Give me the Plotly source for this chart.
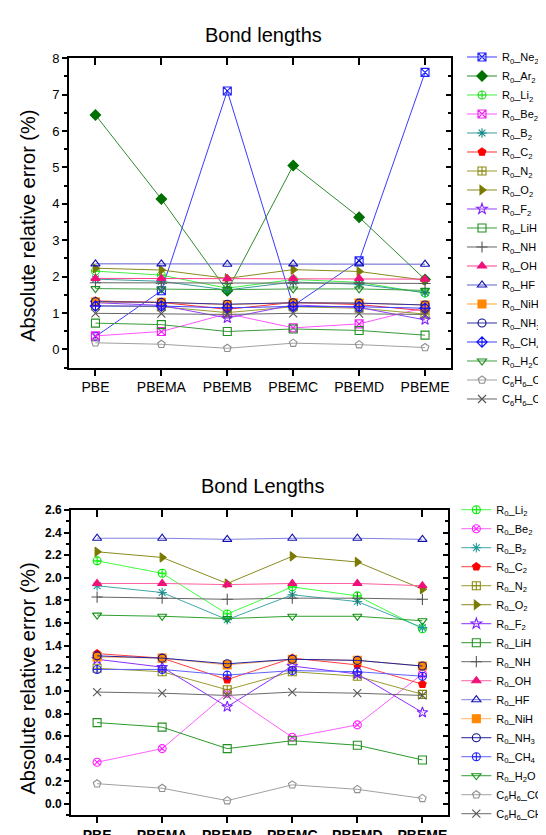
import plotly.graph_objects as go

methods = ["PBE", "PBEMA", "PBEMB", "PBEMC", "PBEMD", "PBEME"]

ne2 = [0.35, 1.61, 7.10, 1.20, 2.43, 7.61]
ar2 = [6.44, 4.13, 1.61, 5.05, 3.63, 1.92]
li2 = [2.15, 2.04, 1.68, 1.92, 1.84, 1.55]
be2 = [0.37, 0.49, 0.98, 0.59, 0.70, 1.15]
b2 = [1.93, 1.87, 1.63, 1.85, 1.79, 1.56]
c2 = [1.33, 1.29, 1.10, 1.29, 1.23, 1.06]
n2 = [1.20, 1.17, 1.01, 1.17, 1.13, 0.97]
o2 = [2.23, 2.18, 1.95, 2.19, 2.14, 1.90]
f2 = [1.28, 1.21, 0.86, 1.22, 1.15, 0.81]
lih = [0.72, 0.68, 0.49, 0.56, 0.52, 0.39]
nh = [1.83, 1.82, 1.81, 1.82, 1.82, 1.81]
oh = [1.95, 1.95, 1.94, 1.95, 1.95, 1.93]
hf = [2.35, 2.35, 2.34, 2.35, 2.35, 2.34]
nih = [1.30, 1.29, 1.23, 1.28, 1.27, 1.22]
nh3 = [1.31, 1.29, 1.24, 1.28, 1.27, 1.22]
ch4 = [1.19, 1.19, 1.14, 1.18, 1.17, 1.13]
h2o = [1.67, 1.66, 1.64, 1.66, 1.66, 1.62]
cc = [0.18, 0.14, 0.03, 0.17, 0.13, 0.05]
ch = [0.99, 0.98, 0.96, 0.99, 0.98, 0.96]

top_title = "Bond lengths"
bottom_title = "Bond Lengths"
y_title = "Absolute relative error (%)"

W, H = 546, 835
FONT = "Liberation Sans, Arial, sans-serif"

# (name, data, marker symbol, marker color, line color)
top_series = [
    ("R<sub>0</sub>_Ne<sub>2</sub>", ne2, "square-x-open", "#2020ff", "#3a3aff"),
    ("R<sub>0</sub>_Ar<sub>2</sub>", ar2, "diamond", "#007000", "#2e8b2e"),
    ("R<sub>0</sub>_Li<sub>2</sub>", li2, "circle-cross-open", "#22dd22", "#44ee44"),
    ("R<sub>0</sub>_Be<sub>2</sub>", be2, "square-x-open", "#ee22ee", "#ff55ff"),
    ("R<sub>0</sub>_B<sub>2</sub>", b2, "asterisk-open", "#108888", "#3a9a9a"),
    ("R<sub>0</sub>_C<sub>2</sub>", c2, "pentagon", "#ff0000", "#ff3030"),
    ("R<sub>0</sub>_N<sub>2</sub>", n2, "square-cross-open", "#8a8a10", "#9a9a30"),
    ("R<sub>0</sub>_O<sub>2</sub>", o2, "triangle-right", "#7a7a00", "#8a8a20"),
    ("R<sub>0</sub>_F<sub>2</sub>", f2, "star-open", "#8020ff", "#9040ff"),
    ("R<sub>0</sub>_LiH", lih, "square-open", "#209020", "#3a9a3a"),
    ("R<sub>0</sub>_NH", nh, "cross-thin-open", "#555555", "#666666"),
    ("R<sub>0</sub>_OH", oh, "triangle-up", "#f0107a", "#ff4090"),
    ("R<sub>0</sub>_HF", hf, "triangle-up-open", "#1010b0", "#6060d0"),
    ("R<sub>0</sub>_NiH", nih, "square", "#ff8800", "#ffa040"),
    ("R<sub>0</sub>_NH<sub>3</sub>", nh3, "circle-open", "#101090", "#3030a0"),
    ("R<sub>0</sub>_CH<sub>4</sub>", ch4, "diamond-cross-open", "#1010ff", "#4040ff"),
    ("R<sub>0</sub>_H<sub>2</sub>O", h2o, "triangle-down-open", "#208a20", "#40a040"),
    ("C<sub>6</sub>H<sub>6</sub>_CC", cc, "pentagon-open", "#909090", "#a0a0a0"),
    ("C<sub>6</sub>H<sub>6</sub>_CH", ch, "x-thin-open", "#555555", "#666666"),
]

bottom_series = [
    ("R<sub>0</sub>_Li<sub>2</sub>", li2, "circle-cross-open", "#00ee00", "#40ff40"),
    ("R<sub>0</sub>_Be<sub>2</sub>", be2, "circle-x-open", "#ff20ff", "#ff60ff"),
    ("R<sub>0</sub>_B<sub>2</sub>", b2, "asterisk-open", "#209a9a", "#40a8a8"),
    ("R<sub>0</sub>_C<sub>2</sub>", c2, "pentagon", "#ff0000", "#ff4040"),
    ("R<sub>0</sub>_N<sub>2</sub>", n2, "square-cross-open", "#8a8a10", "#9a9a30"),
    ("R<sub>0</sub>_O<sub>2</sub>", o2, "triangle-right", "#7a7a00", "#8a8a20"),
    ("R<sub>0</sub>_F<sub>2</sub>", f2, "star-open", "#8020ff", "#8a30ff"),
    ("R<sub>0</sub>_LiH", lih, "square-open", "#209020", "#2a9a2a"),
    ("R<sub>0</sub>_NH", nh, "cross-thin-open", "#555555", "#666666"),
    ("R<sub>0</sub>_OH", oh, "triangle-up", "#f0107a", "#ff60a0"),
    ("R<sub>0</sub>_HF", hf, "triangle-up-open", "#1010b0", "#8080e0"),
    ("R<sub>0</sub>_NiH", nih, "square", "#ff8800", "#ffb060"),
    ("R<sub>0</sub>_NH<sub>3</sub>", nh3, "circle-open", "#101090", "#2020a0"),
    ("R<sub>0</sub>_CH<sub>4</sub>", ch4, "circle-cross-open", "#2020ff", "#6060ff"),
    ("R<sub>0</sub>_H<sub>2</sub>O", h2o, "triangle-down-open", "#109010", "#30a030"),
    ("C<sub>6</sub>H<sub>6</sub>_CC", cc, "pentagon-open", "#909090", "#a0a0a0"),
    ("C<sub>6</sub>H<sub>6</sub>_CH", ch, "x-thin-open", "#555555", "#6a6a6a"),
]

fig = go.Figure()

def add(series, xa, ya, leg):
    for name, vals, sym, mc, lc in series:
        fig.add_trace(go.Scatter(
            x=methods, y=vals, name=name, mode="lines+markers",
            xaxis=xa, yaxis=ya, legend=leg,
            line=dict(color=lc, width=1),
            marker=dict(symbol=sym, size=8, color=mc,
                        line=dict(color=mc, width=1.1)),
        ))

add(top_series, "x", "y", "legend")
add(bottom_series, "x2", "y2", "legend2")

def px_x(a, b):
    return [a / W, b / W]

def px_y(top, bottom):
    return [1 - bottom / H, 1 - top / H]

tick_font_top = dict(family=FONT, size=13, color="black")
xtick_font_top = dict(family=FONT, size=14, color="black")
tick_font_bot = dict(family=FONT, size=12, color="black", weight="bold")
xtick_font_bot = dict(family=FONT, size=14, color="black", weight="bold")

common_x = dict(type="category", range=[-0.4, 5.4], showline=True, linewidth=2,
                linecolor="black", mirror=True, ticks="outside", ticklen=6,
                tickwidth=1.5, tickcolor="black", showgrid=False, zeroline=False)
common_y = dict(showline=True, linewidth=2, linecolor="black", mirror=True,
                ticks="outside", ticklen=5, tickwidth=1.5, tickcolor="black",
                showgrid=False, zeroline=False)

def mirror_x(over, anch):
    return dict(overlaying=over, side="top", anchor=anch, type="linear",
                range=[-0.4, 5.4], tickvals=[0, 1, 2, 3, 4, 5], ticks="inside",
                ticklen=7, tickwidth=1.5, tickcolor="black", showticklabels=False,
                showgrid=False, zeroline=False, showline=False)

def mirror_y(over, anch, rng, dt, mdt):
    return dict(overlaying=over, side="right", anchor=anch, range=rng,
                dtick=dt, tick0=0, ticks="inside", ticklen=5, tickwidth=1.5,
                tickcolor="black", showticklabels=False, showgrid=False,
                zeroline=False, showline=False,
                minor=dict(ticks="inside", dtick=mdt, ticklen=3, tickcolor="black"))

def label(text, x, y, size, angle=0):
    return dict(text=text, x=x / W, y=1 - y / H, xref="paper", yref="paper",
                xanchor="center", yanchor="middle", showarrow=False,
                textangle=angle, font=dict(family=FONT, size=size, color="black"))

fig.update_layout(
    width=W, height=H, margin=dict(l=0, r=0, t=0, b=0),
    paper_bgcolor="white", plot_bgcolor="white",
    showlegend=True,
    xaxis=dict(common_x, domain=px_x(62, 450), anchor="y", tickfont=xtick_font_top),
    yaxis=dict(common_y, domain=px_y(44, 359), anchor="x", range=[-0.5, 8],
               dtick=1, tick0=0, tickfont=tick_font_top,
               minor=dict(ticks="outside", dtick=0.5, ticklen=3, tickcolor="black")),
    xaxis3=mirror_x("x", "y"),
    yaxis3=mirror_y("y", "x", [-0.5, 8], 1, 0.5),
    xaxis2=dict(common_x, domain=px_x(64, 447), anchor="y2", tickfont=xtick_font_bot),
    yaxis2=dict(common_y, domain=px_y(504, 815), anchor="x2", range=[-0.1, 2.6],
                dtick=0.2, tick0=0, tickformat=".1f", tickfont=tick_font_bot,
                minor=dict(ticks="outside", dtick=0.1, ticklen=3, tickcolor="black")),
    xaxis4=mirror_x("x2", "y2"),
    yaxis4=mirror_y("y2", "x2", [-0.1, 2.6], 0.2, 0.1),
    legend=dict(x=461 / W, y=1 - 28 / H, xanchor="left", yanchor="top",
                font=dict(family=FONT, size=11, color="black"),
                bgcolor="rgba(0,0,0,0)", tracegroupgap=0),
    legend2=dict(x=455 / W, y=1 - 489 / H, xanchor="left", yanchor="top",
                 font=dict(family=FONT, size=11, color="black"),
                 bgcolor="rgba(0,0,0,0)", tracegroupgap=0),
    annotations=[
        label(top_title, 259, 20, 20),
        label(bottom_title, 258, 480, 20),
        label(y_title, 20, 215, 20, -90),
        label(y_title, 20, 676, 20, -90),
    ],
)

# invisible helper traces so that the mirrored tick axes are drawn
for xa, ya, xv in [("x3", "y", 0), ("x", "y3", "PBE"), ("x4", "y2", 0), ("x2", "y4", "PBE")]:
    fig.add_trace(go.Scatter(x=[xv], y=[0], xaxis=xa, yaxis=ya, showlegend=False,
                             hoverinfo="skip", mode="markers",
                             marker=dict(opacity=0)))

fig.write_html("out.html")
